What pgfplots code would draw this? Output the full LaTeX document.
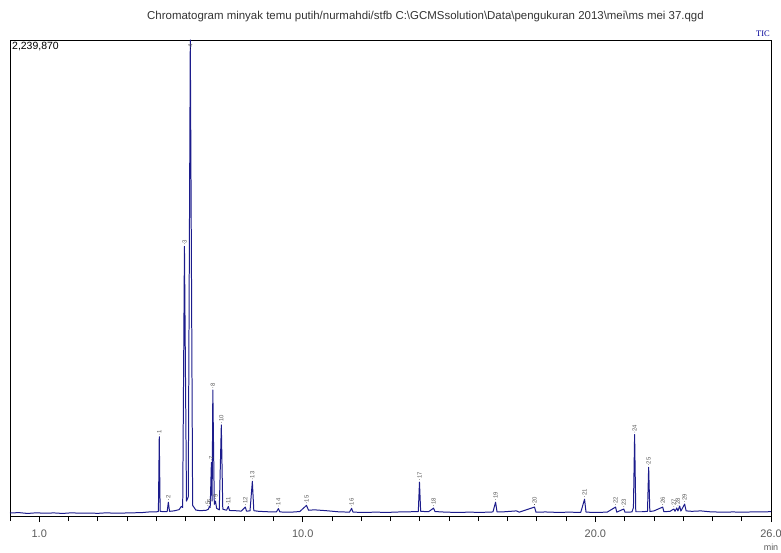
\documentclass[border=0pt]{standalone}
\usepackage{fontspec}
\setmainfont{Liberation Sans}
\newfontfamily\seriffont{Liberation Serif}
\usepackage{pgfplots}
\pgfplotsset{compat=1.18}
\usepackage{pgfplotstable}
\definecolor{trace}{RGB}{28,28,140}
\definecolor{lab}{RGB}{90,90,90}

\pgfplotstableread{
t y
0.00 14000
0.30 16000
0.60 12000
0.90 15000
1.20 13000
1.50 14500
1.80 12000
2.10 15000
2.40 13000
2.70 14000
3.00 12500
3.30 15000
3.60 13000
3.90 14000
4.20 15000
4.50 16000
4.75 19000
5.02 20000
5.07 21000
5.10 373000
5.13 22000
5.25 20000
5.37 21000
5.41 65000
5.45 22000
5.60 24000
5.78 30000
5.85 45000
5.90 40000
5.96 1269000
6.03 70000
6.09 90000
6.16 2239870
6.24 50000
6.35 28000
6.50 25000
6.70 27000
6.78 32000
6.81 45000
6.84 40000
6.88 252000
6.905 70000
6.93 593000
6.98 55000
7.02 70000
7.06 36000
7.15 29000
7.22 429000
7.27 32000
7.40 27000
7.46 45000
7.50 26000
7.70 25000
7.90 23000
8.04 42000
8.08 23000
8.20 24000
8.28 163000
8.33 25000
8.50 22000
8.80 20000
9.10 19000
9.17 35000
9.22 19000
9.60 18000
9.90 21000
10.13 50000
10.20 27000
10.40 29000
10.80 25000
11.20 20000
11.60 18000
11.67 36000
11.72 18000
12.10 17000
12.50 18000
12.90 17000
13.30 19000
13.70 20000
13.95 21000
13.99 159000
14.03 22000
14.30 20000
14.47 37000
14.52 21000
14.90 18000
15.30 17000
15.70 18000
16.10 17000
16.50 19000
16.59 65000
16.64 19000
16.90 20000
17.30 24000
17.40 18000
17.92 42000
17.97 18000
18.30 19000
18.70 17000
19.10 18000
19.50 17000
19.63 79000
19.68 18000
20.00 17000
20.40 18000
20.69 42000
20.73 18000
20.97 33000
21.01 18000
21.25 19000
21.30 40000
21.34 383000
21.38 20000
21.60 20000
21.78 22000
21.82 229000
21.86 21000
22.00 24000
22.30 42000
22.34 20000
22.55 22000
22.68 33000
22.72 22000
22.78 38000
22.82 24000
22.88 47000
22.92 23000
23.05 56000
23.10 24000
23.30 22000
23.60 24000
23.90 20000
24.30 18000
24.70 19000
25.10 18000
25.50 20000
25.80 19000
26.00 21000
}\chrom

\pgfplotstableread{
t y lab
5.10 385000 1
5.41 77000 2
5.96 1281000 3
6.16 2200000 4
6.76 50000 5
6.81 58000 6
6.88 264000 7
6.93 605000 8
7.02 82000 9
7.22 441000 10
7.46 57000 11
8.04 54000 12
8.28 175000 13
9.17 47000 14
10.13 62000 15
11.67 48000 16
13.99 171000 17
14.47 49000 18
16.59 77000 19
17.92 54000 20
19.63 91000 21
20.69 54000 22
20.97 45000 23
21.34 395000 24
21.82 241000 25
22.30 54000 26
22.68 45000 27
22.82 50000 28
23.05 68000 29
}\peaks

\begin{document}
\begin{tikzpicture}
\useasboundingbox (-10bp,-37bp) rectangle (771bp,516bp);
\begin{axis}[
  name=ax,
  scale only axis,
  width=761bp, height=476bp,
  xmin=0, xmax=26, ymin=0, ymax=2239870,
  axis line style={black, line width=0.8pt},
  ytick=\empty,
  xtick={1,10,20,26},
  xticklabels={1.0,10.0,20.0,26.0},
  minor xtick={0,1,...,26},
  xtick pos=bottom,
  tick align=outside,
  major tick length=6bp,
  minor tick length=5bp,
  tick style={black, line width=0.8pt},
  xticklabel style={font=\fontsize{11}{12}\selectfont, text=lab, yshift=-4bp},
  clip=true,
]
\addplot[trace, line width=1pt, line join=round] table[x=t, y=y] {\chrom};
\addplot[only marks, mark=*, mark size=0.01pt, mark options={draw=none, fill=none},
  nodes near coords, point meta=explicit symbolic,
  nodes near coords style={rotate=90, anchor=west, inner sep=0.5bp,
    font=\fontsize{6}{6}\selectfont, text=lab}]
  table[x=t, y=y, meta=lab] {\peaks};
\end{axis}
\node[font=\fontsize{11.5}{12}\selectfont, text=black!80, anchor=base] at ([xshift=35bp, yshift=20bp]ax.north)
  {Chromatogram minyak temu putih/nurmahdi/stfb C:\textbackslash GCMSsolution\textbackslash Data\textbackslash pengukuran 2013\textbackslash mei\textbackslash ms mei 37.qgd};
\node[anchor=south east, inner sep=1bp, font=\seriffont\fontsize{8.5}{9}\selectfont, text=blue!60!black] at ([yshift=2bp]ax.north east) {TIC};
\node[anchor=north west, inner sep=2bp, font=\fontsize{10.5}{11}\selectfont] at (ax.north west) {2,239,870};
\node[anchor=north, inner sep=1bp, font=\fontsize{9}{10}\selectfont, text=lab] at ([yshift=-27bp]ax.south east) {min};
\end{tikzpicture}
\end{document}
